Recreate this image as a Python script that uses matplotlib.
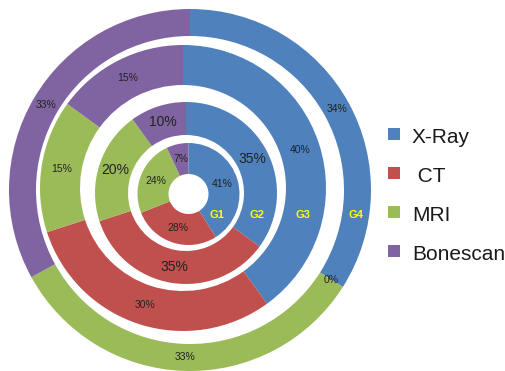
import matplotlib.pyplot as plt
import numpy as np
from matplotlib.patches import Rectangle

# data, percentages per ring (inner G1 -> outer G4)
categories = ["X-Ray", "CT", "MRI", "Bonescan"]
legend_labels = ["X-Ray", " CT", "MRI", "Bonescan"]
groups = ["G1", "G2", "G3", "G4"]
g1 = [41, 28, 24, 7]
g2 = [35, 35, 20, 10]
g3 = [40, 30, 15, 15]
g4 = [34, 0, 33, 33]

colors = ["#4F81BD", "#C0504D", "#9BBB59", "#8064A2"]

W, H = 505, 371

# ring geometry in pixels (image coords): centre x, centre y, outer r, inner r
rings = {
    "G1": (188.5, 194, 51, 20),
    "G2": (186, 193, 91, 58),
    "G3": (183, 188, 143, 103),
    "G4": (190, 190, 181, 154),
}
pct_size = {"G1": 7.5, "G2": 10, "G3": 7.5, "G4": 7.5}

fig = plt.figure(figsize=(W / 100, H / 100), dpi=100)
ax = fig.add_axes([0, 0, 1, 1])

for name, vals in zip(groups, [g1, g2, g3, g4]):
    cx, cy, r_out, r_in = rings[name]
    ax.pie(
        vals,
        colors=colors,
        startangle=90,
        counterclock=False,
        radius=r_out,
        center=(cx, H - cy),
        wedgeprops=dict(width=r_out - r_in, linewidth=0),
        autopct=lambda p: f"{p:.0f}%",
        pctdistance=(r_out + r_in) / 2 / r_out,
        textprops=dict(fontsize=pct_size[name], color="#222222",
                       family="Liberation Sans"),
    )

# yellow group names on a horizontal line through the right side
label_y = 215
for name in groups:
    cx, cy, r_out, r_in = rings[name]
    rm = (r_out + r_in) / 2
    x = cx + np.sqrt(rm ** 2 - (label_y - cy) ** 2)
    ax.text(x, H - label_y, name, color="#FFFF00", fontsize=8,
            fontweight="bold", family="Liberation Sans",
            ha="center", va="center")

# legend drawn by hand (Excel spacing is uneven)
legend_top = [128, 167, 206, 245]
for lab, col, top in zip(legend_labels, colors, legend_top):
    ax.add_patch(Rectangle((388, H - top - 12), 12, 12, facecolor=col,
                           edgecolor="none"))
    ax.text(412, H - top - 15, lab, fontsize=15, color="#1a1a1a",
            family="Liberation Sans", ha="left", va="baseline")

ax.set_xlim(0, W)
ax.set_ylim(0, H)
ax.axis("off")

fig.savefig("out.png", dpi=100)
